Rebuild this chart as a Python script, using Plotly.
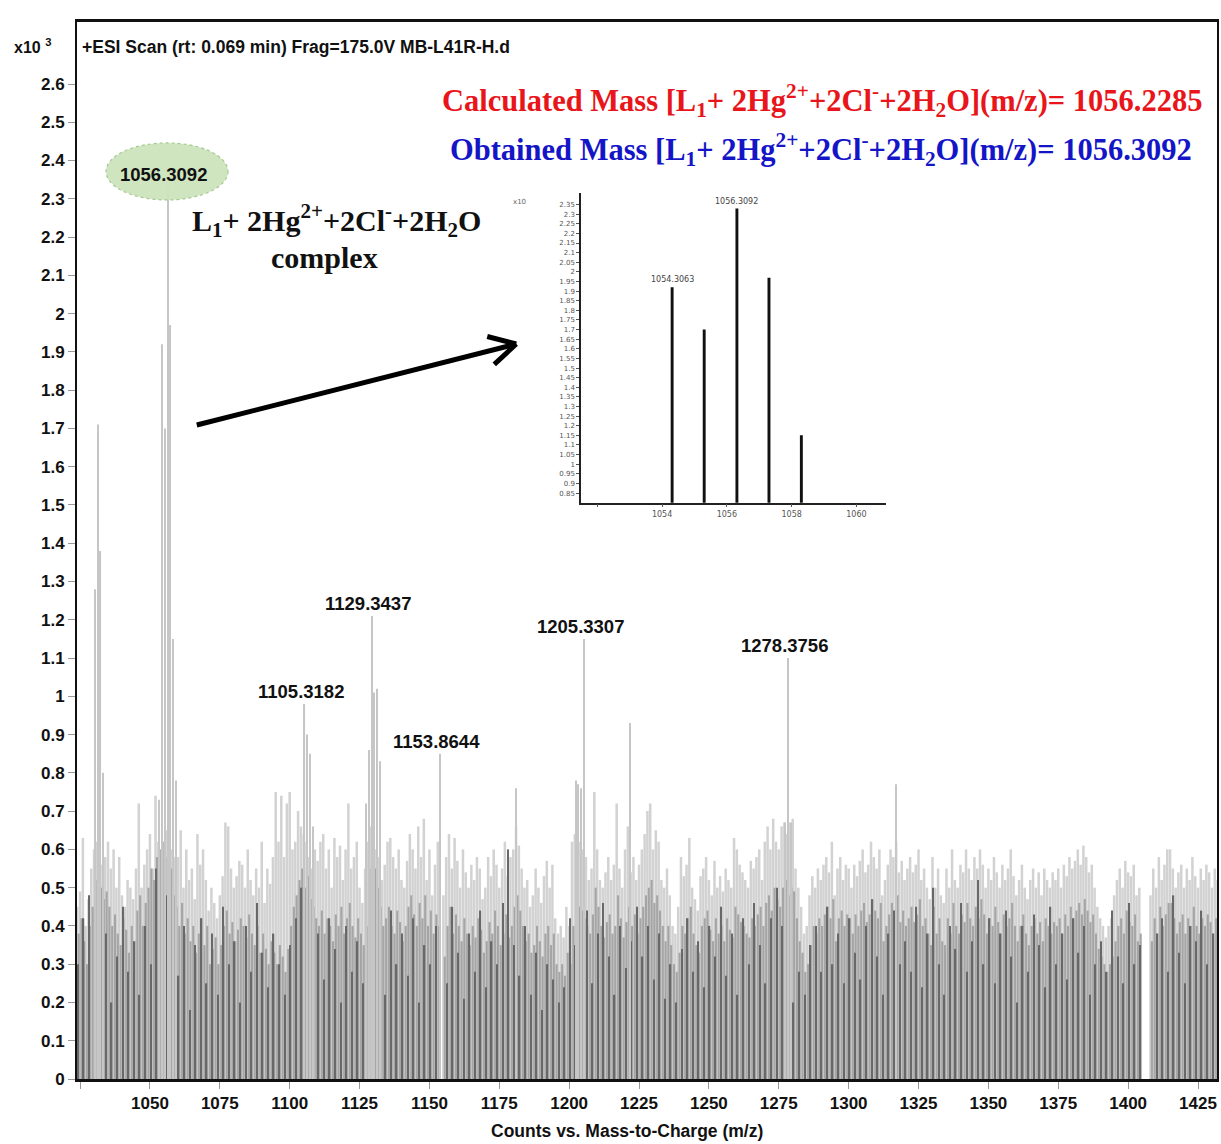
import math
import numpy as np
import plotly.graph_objects as go

# ---------------- data (counts x10^3) ----------------
# labelled / major peaks
peak_mz = [1030.3, 1031.3, 1032.3, 1033.3, 1053.3, 1054.31, 1055.3, 1056.31, 1057.3, 1058.3, 1059.3,
           1105.32, 1106.3, 1107.3, 1108.3, 1127.3, 1128.3, 1129.34, 1130.3, 1131.3, 1132.3,
           1153.86, 1181.0, 1202.3, 1203.3, 1204.3, 1205.33, 1221.7, 1277.3, 1278.38, 1279.3, 1317.0]
peak_int = [1.28, 1.71, 1.38, 0.80, 0.73, 1.92, 1.70, 2.33, 1.97, 1.15, 0.78,
            0.98, 0.90, 0.85, 0.66, 0.72, 0.86, 1.21, 1.01, 1.02, 0.83,
            0.85, 0.76, 0.78, 0.77, 0.76, 1.15, 0.93, 0.67, 1.10, 0.67, 0.77]

# background noise, light grey trace (1 m/z sampling starting at 1024)
noise_light_start = 1024.0
noise_light = [
    0.45, 0.49, 0.63, 0.40, 0.47, 0.55, 0.60, 0.62, 0.57, 0.56,
    0.58, 0.62, 0.55, 0.60, 0.50, 0.58, 0.48, 0.45, 0.52, 0.50,
    0.47, 0.55, 0.72, 0.50, 0.56, 0.60, 0.64, 0.55, 0.74, 0.62,
    0.60, 0.62, 0.65, 0.63, 0.60, 0.58, 0.58, 0.65, 0.50, 0.60,
    0.52, 0.55, 0.47, 0.64, 0.56, 0.60, 0.52, 0.44, 0.50, 0.46,
    0.42, 0.48, 0.53, 0.67, 0.66, 0.55, 0.50, 0.53, 0.57, 0.56,
    0.50, 0.60, 0.52, 0.48, 0.55, 0.50, 0.62, 0.46, 0.55, 0.51,
    0.58, 0.75, 0.62, 0.74, 0.58, 0.72, 0.75, 0.60, 0.62, 0.70,
    0.66, 0.64, 0.62, 0.58, 0.55, 0.60, 0.57, 0.62, 0.64, 0.55,
    0.60, 0.50, 0.63, 0.58, 0.61, 0.52, 0.60, 0.72, 0.55, 0.58,
    0.62, 0.50, 0.46, 0.55, 0.62, 0.66, 0.64, 0.60, 0.58, 0.52,
    0.56, 0.62, 0.63, 0.58, 0.55, 0.60, 0.52, 0.50, 0.57, 0.64,
    0.60, 0.55, 0.66, 0.58, 0.68, 0.52, 0.60, 0.48, 0.56, 0.62,
    0.00, 0.48, 0.58, 0.64, 0.55, 0.63, 0.57, 0.50, 0.60, 0.54,
    0.50, 0.56, 0.52, 0.58, 0.55, 0.47, 0.50, 0.58, 0.53, 0.60,
    0.56, 0.50, 0.55, 0.62, 0.53, 0.58, 0.60, 0.66, 0.61, 0.55,
    0.50, 0.52, 0.45, 0.48, 0.55, 0.50, 0.46, 0.53, 0.57, 0.50,
    0.56, 0.42, 0.38, 0.40, 0.37, 0.45, 0.40, 0.62, 0.64, 0.63,
    0.62, 0.60, 0.58, 0.52, 0.55, 0.75, 0.60, 0.52, 0.50, 0.54,
    0.58, 0.52, 0.56, 0.72, 0.55, 0.50, 0.60, 0.66, 0.54, 0.58,
    0.52, 0.56, 0.60, 0.64, 0.70, 0.72, 0.60, 0.65, 0.62, 0.52,
    0.50, 0.55, 0.48, 0.40, 0.38, 0.45, 0.58, 0.53, 0.56, 0.63,
    0.50, 0.47, 0.44, 0.53, 0.55, 0.58, 0.52, 0.48, 0.57, 0.50,
    0.53, 0.49, 0.55, 0.52, 0.50, 0.63, 0.60, 0.56, 0.54, 0.52,
    0.50, 0.57, 0.55, 0.58, 0.60, 0.52, 0.62, 0.66, 0.60, 0.68,
    0.62, 0.60, 0.66, 0.67, 0.64, 0.67, 0.68, 0.55, 0.50, 0.45,
    0.38, 0.40, 0.48, 0.53, 0.50, 0.55, 0.52, 0.56, 0.58, 0.54,
    0.62, 0.48, 0.55, 0.58, 0.52, 0.56, 0.55, 0.50, 0.56, 0.53,
    0.57, 0.60, 0.54, 0.56, 0.62, 0.58, 0.55, 0.60, 0.48, 0.52,
    0.56, 0.60, 0.58, 0.62, 0.54, 0.57, 0.52, 0.55, 0.58, 0.54,
    0.56, 0.60, 0.52, 0.55, 0.50, 0.47, 0.58, 0.50, 0.55, 0.48,
    0.46, 0.55, 0.50, 0.60, 0.52, 0.50, 0.56, 0.54, 0.60, 0.55,
    0.52, 0.58, 0.55, 0.60, 0.56, 0.50, 0.55, 0.52, 0.58, 0.54,
    0.50, 0.56, 0.52, 0.55, 0.60, 0.53, 0.48, 0.52, 0.56, 0.50,
    0.47, 0.52, 0.55, 0.50, 0.54, 0.48, 0.55, 0.52, 0.50, 0.54,
    0.52, 0.55, 0.50, 0.56, 0.53, 0.58, 0.55, 0.57, 0.60, 0.56,
    0.61, 0.58, 0.54, 0.56, 0.50, 0.45, 0.42, 0.40, 0.37, 0.40,
    0.42, 0.48, 0.52, 0.55, 0.50, 0.57, 0.54, 0.53, 0.56, 0.48,
    0.50, 0.00, 0.00, 0.00, 0.48, 0.55, 0.50, 0.58, 0.52, 0.56,
    0.60, 0.60, 0.55, 0.50, 0.54, 0.56, 0.50, 0.55, 0.52, 0.58,
    0.53, 0.50, 0.55, 0.52, 0.56, 0.54, 0.50, 0.55, 0.52, 0.50,
]

# background noise, mid grey trace (1 m/z sampling starting at 1024.5)
noise_mid_start = 1024.5
noise_mid = [
    0.38, 0.42, 0.36, 0.30, 0.40, 0.45, 0.52, 0.55, 0.50, 0.47,
    0.49, 0.45, 0.40, 0.43, 0.38, 0.35, 0.42, 0.39, 0.33, 0.40,
    0.36, 0.44, 0.48, 0.40, 0.46, 0.50, 0.55, 0.52, 0.58, 0.60,
    0.62, 0.58, 0.60, 0.55, 0.48, 0.45, 0.40, 0.46, 0.38, 0.42,
    0.36, 0.40, 0.33, 0.38, 0.42, 0.35, 0.40, 0.30, 0.34, 0.37,
    0.30, 0.35, 0.40, 0.44, 0.38, 0.41, 0.36, 0.39, 0.42, 0.40,
    0.37, 0.43, 0.38, 0.35, 0.40, 0.33, 0.38, 0.34, 0.30, 0.36,
    0.33, 0.30, 0.35, 0.32, 0.28, 0.34, 0.40, 0.45, 0.48, 0.52,
    0.55, 0.50, 0.53, 0.47, 0.45, 0.42, 0.40, 0.44, 0.38, 0.42,
    0.40, 0.36, 0.43, 0.40, 0.45, 0.38, 0.42, 0.46, 0.40, 0.37,
    0.42, 0.38, 0.35, 0.40, 0.55, 0.58, 0.55, 0.50, 0.45, 0.40,
    0.42, 0.45, 0.40, 0.38, 0.44, 0.41, 0.36, 0.40, 0.45, 0.48,
    0.43, 0.40, 0.46, 0.42, 0.48, 0.40, 0.44, 0.38, 0.43, 0.40,
    0.00, 0.32, 0.40, 0.45, 0.38, 0.43, 0.40, 0.36, 0.42, 0.38,
    0.35, 0.40, 0.37, 0.42, 0.39, 0.33, 0.36, 0.41, 0.38, 0.44,
    0.40, 0.35, 0.38, 0.43, 0.37, 0.40, 0.45, 0.48, 0.44, 0.40,
    0.36, 0.38, 0.33, 0.35, 0.40, 0.36, 0.32, 0.38, 0.40, 0.35,
    0.38, 0.30, 0.28, 0.30, 0.27, 0.33, 0.30, 0.40, 0.47, 0.45,
    0.44, 0.42, 0.40, 0.38, 0.43, 0.50, 0.45, 0.40, 0.37, 0.41,
    0.43, 0.38, 0.40, 0.48, 0.42, 0.37, 0.41, 0.45, 0.40, 0.43,
    0.38, 0.42, 0.45, 0.48, 0.50, 0.52, 0.46, 0.48, 0.44, 0.40,
    0.36, 0.40, 0.35, 0.30, 0.28, 0.33, 0.40, 0.38, 0.42, 0.45,
    0.38, 0.35, 0.33, 0.40, 0.42, 0.44, 0.39, 0.36, 0.42, 0.38,
    0.40, 0.36, 0.42, 0.39, 0.37, 0.45, 0.43, 0.41, 0.40, 0.38,
    0.37, 0.42, 0.40, 0.43, 0.45, 0.40, 0.46, 0.48, 0.44, 0.50,
    0.47, 0.45, 0.50, 0.52, 0.48, 0.50, 0.49, 0.42, 0.36, 0.33,
    0.28, 0.30, 0.35, 0.40, 0.38, 0.42, 0.40, 0.43, 0.45, 0.42,
    0.47, 0.36, 0.42, 0.44, 0.40, 0.43, 0.42, 0.38, 0.43, 0.40,
    0.44, 0.46, 0.41, 0.43, 0.47, 0.44, 0.42, 0.46, 0.36, 0.40,
    0.43, 0.46, 0.44, 0.48, 0.41, 0.44, 0.40, 0.42, 0.45, 0.41,
    0.43, 0.47, 0.40, 0.42, 0.38, 0.35, 0.45, 0.38, 0.42, 0.36,
    0.35, 0.42, 0.38, 0.46, 0.40, 0.38, 0.43, 0.41, 0.46, 0.42,
    0.40, 0.45, 0.42, 0.47, 0.43, 0.38, 0.42, 0.40, 0.45, 0.41,
    0.38, 0.43, 0.40, 0.42, 0.46, 0.40, 0.36, 0.40, 0.43, 0.38,
    0.35, 0.40, 0.42, 0.38, 0.41, 0.36, 0.42, 0.40, 0.38, 0.41,
    0.40, 0.42, 0.38, 0.43, 0.40, 0.45, 0.42, 0.44, 0.46, 0.43,
    0.47, 0.44, 0.41, 0.43, 0.38, 0.34, 0.32, 0.30, 0.28, 0.30,
    0.32, 0.36, 0.40, 0.42, 0.38, 0.44, 0.41, 0.40, 0.43, 0.36,
    0.38, 0.00, 0.00, 0.00, 0.36, 0.42, 0.38, 0.45, 0.40, 0.43,
    0.46, 0.46, 0.42, 0.38, 0.41, 0.43, 0.38, 0.42, 0.40, 0.45,
    0.40, 0.38, 0.42, 0.40, 0.43, 0.41, 0.38, 0.42, 0.40, 0.38,
]

# background noise, dark grey trace (2 m/z sampling starting at 1024.25)
noise_dark_start = 1024.25
noise_dark = [
    0.30, 0.42, 0.48, 0.35, 0.25, 0.38, 0.20, 0.32, 0.45, 0.28,
    0.36, 0.22, 0.40, 0.30, 0.55, 0.60, 0.48, 0.33, 0.27, 0.40,
    0.18, 0.35, 0.42, 0.25, 0.38, 0.22, 0.45, 0.30, 0.36, 0.20,
    0.40, 0.28, 0.46, 0.33, 0.24, 0.38, 0.30, 0.22, 0.35, 0.42,
    0.50, 0.45, 0.30, 0.38, 0.26, 0.42, 0.34, 0.20, 0.40, 0.28,
    0.36, 0.25, 0.48, 0.40, 0.32, 0.22, 0.44, 0.30, 0.38, 0.27,
    0.42, 0.20, 0.35, 0.30, 0.40, 0.00, 0.25, 0.45, 0.33, 0.21,
    0.38, 0.28, 0.44, 0.24, 0.36, 0.30, 0.46, 0.60, 0.35, 0.27,
    0.40, 0.22, 0.33, 0.18, 0.30, 0.26, 0.20, 0.24, 0.42, 0.35,
    0.30, 0.44, 0.25, 0.38, 0.46, 0.32, 0.22, 0.40, 0.29, 0.36,
    0.45, 0.32, 0.40, 0.26, 0.38, 0.21, 0.30, 0.20, 0.34, 0.42,
    0.28, 0.36, 0.24, 0.40, 0.32, 0.45, 0.27, 0.38, 0.22, 0.42,
    0.30, 0.46, 0.35, 0.25, 0.42, 0.50, 0.40, 0.33, 0.20, 0.28,
    0.22, 0.35, 0.40, 0.28, 0.45, 0.30, 0.38, 0.25, 0.42, 0.33,
    0.26, 0.40, 0.47, 0.32, 0.22, 0.38, 0.44, 0.30, 0.36, 0.28,
    0.45, 0.24, 0.38, 0.50, 0.30, 0.22, 0.40, 0.34, 0.46, 0.28,
    0.36, 0.52, 0.30, 0.42, 0.25, 0.38, 0.44, 0.32, 0.20, 0.40,
    0.28, 0.43, 0.35, 0.24, 0.45, 0.30, 0.38, 0.26, 0.42, 0.33,
    0.40, 0.22, 0.30, 0.36, 0.28, 0.44, 0.32, 0.25, 0.46, 0.30,
    0.35, 0.00, 0.00, 0.38, 0.42, 0.28, 0.48, 0.33, 0.25, 0.40,
    0.36, 0.44, 0.30, 0.38, 0.28,
]

# inset (zoom on the isotope cluster)
inset_mz = [1054.31, 1055.30, 1056.31, 1057.30, 1058.30]
inset_int = [1.92, 1.70, 2.33, 1.97, 1.15]

labelled_peaks = [(1056.31, 2.33, "1056.3092"), (1105.32, 0.98, "1105.3182"),
                  (1129.34, 1.21, "1129.3437"), (1153.86, 0.85, "1153.8644"),
                  (1205.33, 1.15, "1205.3307"), (1278.38, 1.10, "1278.3756")]

y_ticks = [round(0.1 * i, 1) for i in range(27)]
inset_y_ticks = [round(0.85 + 0.05 * i, 2) for i in range(31)]

# ---------------- figure ----------------
W, H = 1221, 1144
ML, MR, MT, MB = 77, 2, 22, 65
PW, PH = W - ML - MR, H - MT - MB


def px(xp):
    return (xp - ML) / PW


def py(yp):
    return (H - MB - yp) / PH


def grid(start, n, step):
    return start + step * np.arange(n)


SANS = "Liberation Sans, Arial, sans-serif"
SERIF = "Liberation Serif, Times New Roman, serif"
WIDE = "DejaVu Sans, Verdana, sans-serif"

fig = go.Figure()
fig.add_trace(go.Bar(x=grid(noise_light_start, len(noise_light), 1.0), y=noise_light,
                     width=0.9, marker=dict(color="#d2d2d2", line_width=0), hoverinfo="skip"))
fig.add_trace(go.Bar(x=grid(noise_mid_start, len(noise_mid), 1.0), y=noise_mid,
                     width=0.75, marker=dict(color="#a5a5a5", line_width=0), hoverinfo="skip"))
fig.add_trace(go.Bar(x=grid(noise_dark_start, len(noise_dark), 2.0), y=noise_dark,
                     width=0.45, marker=dict(color="#686868", line_width=0), hoverinfo="skip"))
fig.add_trace(go.Bar(x=peak_mz, y=peak_int, width=0.4,
                     marker=dict(color="#c6c6c6", line_width=0), hoverinfo="skip"))
fig.add_trace(go.Bar(x=inset_mz, y=inset_int, width=0.09, xaxis="x2", yaxis="y2",
                     marker=dict(color="#111111", line_width=0), hoverinfo="skip"))

tick_font = dict(family=SANS, size=17, color="#111")
xt = list(range(1025, 1426, 25))
fig.update_layout(
    width=W, height=H, margin=dict(l=ML, r=MR, t=MT, b=MB),
    paper_bgcolor="white", plot_bgcolor="white", showlegend=False,
    barmode="overlay",
    xaxis=dict(domain=[0, 1], range=[1023.9, 1431.8], tickvals=xt,
               ticktext=["" if v == 1025 else "<b>%d</b>" % v for v in xt],
               ticks="outside", ticklen=7, tickcolor="#999", tickfont=tick_font,
               showline=True, linecolor="#111", linewidth=2.5, mirror=True,
               showgrid=False, zeroline=False),
    yaxis=dict(domain=[0, 1], range=[0, 2.762], tickvals=y_ticks,
               ticktext=["<b>%g</b>" % v for v in y_ticks],
               ticks="outside", ticklen=7, tickcolor="#999", tickfont=tick_font,
               showline=True, linecolor="#111", linewidth=2, mirror=True,
               showgrid=False, zeroline=False),
    xaxis2=dict(domain=[px(582), px(887)], anchor="y2", range=[1051.5, 1060.9],
                tickvals=[1052, 1054, 1056, 1058, 1060], ticktext=["", "1054", "1056", "1058", "1060"],
                ticks="outside", ticklen=3, tickcolor="#555",
                tickfont=dict(family=WIDE, size=8, color="#555"),
                showline=True, linecolor="#222", linewidth=1.5, showgrid=False, zeroline=False),
    yaxis2=dict(domain=[py(502.7), py(193)], anchor="x2", range=[0.80, 2.41],
                tickvals=inset_y_ticks,
                ticktext=["%g" % v for v in inset_y_ticks],
                ticks="outside", ticklen=3, tickcolor="#555",
                tickfont=dict(family=WIDE, size=7, color="#555"),
                showline=True, linecolor="#222", linewidth=1.5, showgrid=False, zeroline=False),
)

# green ellipse around the base peak label
fig.add_shape(type="circle", xref="x", yref="y", x0=1034.3, x1=1077.9, y0=2.297, y1=2.446,
              fillcolor="rgba(204,228,188,0.95)", line=dict(color="#a6c892", width=1.2, dash="dot"),
              layer="above")

ann = []
for mz, inten, txt in labelled_peaks:
    ann.append(dict(x=mz, y=inten, xref="x", yref="y", text="<b>%s</b>" % txt, showarrow=False,
                    xanchor="center", yanchor="bottom", xshift=-4, yshift=0,
                    font=dict(family=SANS, size=18.5, color="#111")))

ann.append(dict(x=px(80), y=py(47), xref="paper", yref="paper", xanchor="left", yanchor="middle",
                text="<b>+ESI Scan (rt: 0.069 min) Frag=175.0V MB-L41R-H.d</b>", showarrow=False,
                font=dict(family=SANS, size=17.5, color="#111")))
ann.append(dict(x=px(32), y=py(46), xref="paper", yref="paper", xanchor="center", yanchor="middle",
                text="<b>x10 <sup>3</sup></b>", showarrow=False,
                font=dict(family=SANS, size=16, color="#111")))
ann.append(dict(x=px(628), y=py(1131), xref="paper", yref="paper", xanchor="center", yanchor="middle",
                text="<b>Counts vs. Mass-to-Charge (m/z)</b>", showarrow=False,
                font=dict(family=SANS, size=17.5, color="#111")))

formula = "[L<sub>1</sub>+ 2Hg<sup>2+</sup>+2Cl<sup>-</sup>+2H<sub>2</sub>O](m/z)="
ann.append(dict(x=px(823), y=py(100), xref="paper", yref="paper", xanchor="center", yanchor="middle",
                text="<b>Calculated Mass " + formula + " 1056.2285</b>", showarrow=False,
                font=dict(family=SERIF, size=30.5, color="#e8151b")))
ann.append(dict(x=px(822), y=py(149), xref="paper", yref="paper", xanchor="center", yanchor="middle",
                text="<b>Obtained Mass " + formula + " 1056.3092</b>", showarrow=False,
                font=dict(family=SERIF, size=30.5, color="#1515c8")))
ann.append(dict(x=px(337), y=py(220), xref="paper", yref="paper", xanchor="center", yanchor="middle",
                text="<b>L<sub>1</sub>+ 2Hg<sup>2+</sup>+2Cl<sup>-</sup>+2H<sub>2</sub>O</b>", showarrow=False,
                font=dict(family=SERIF, size=30, color="#111")))
ann.append(dict(x=px(325), y=py(257), xref="paper", yref="paper", xanchor="center", yanchor="middle",
                text="<b>complex</b>", showarrow=False,
                font=dict(family=SERIF, size=30, color="#111")))

# inset labels
ann.append(dict(x=1054.31, y=1.92, xref="x2", yref="y2", text="1054.3063", showarrow=False,
                yanchor="bottom", yshift=1, font=dict(family=WIDE, size=8, color="#444")))
ann.append(dict(x=1056.31, y=2.33, xref="x2", yref="y2", text="1056.3092", showarrow=False,
                yanchor="bottom", yshift=0, font=dict(family=WIDE, size=8, color="#444")))
ann.append(dict(x=px(520), y=py(196), xref="paper", yref="paper", text="x10", showarrow=False,
                font=dict(family=WIDE, size=7, color="#666")))

fig.update_layout(annotations=ann)

# arrow from the complex label to the inset
x0a, y0a, x1a, y1a = 197, 425, 517, 344
fig.add_shape(type="line", xref="paper", yref="paper", x0=px(x0a), y0=py(y0a), x1=px(x1a), y1=py(y1a),
              line=dict(color="black", width=5))
ang = math.atan2(y0a - y1a, x0a - x1a)
for d in (-0.5, 0.5):
    ex = x1a + 30 * math.cos(ang + d)
    ey = y1a + 30 * math.sin(ang + d)
    fig.add_shape(type="line", xref="paper", yref="paper", x0=px(x1a), y0=py(y1a), x1=px(ex), y1=py(ey),
                  line=dict(color="black", width=5))

fig.write_html("out.html")
